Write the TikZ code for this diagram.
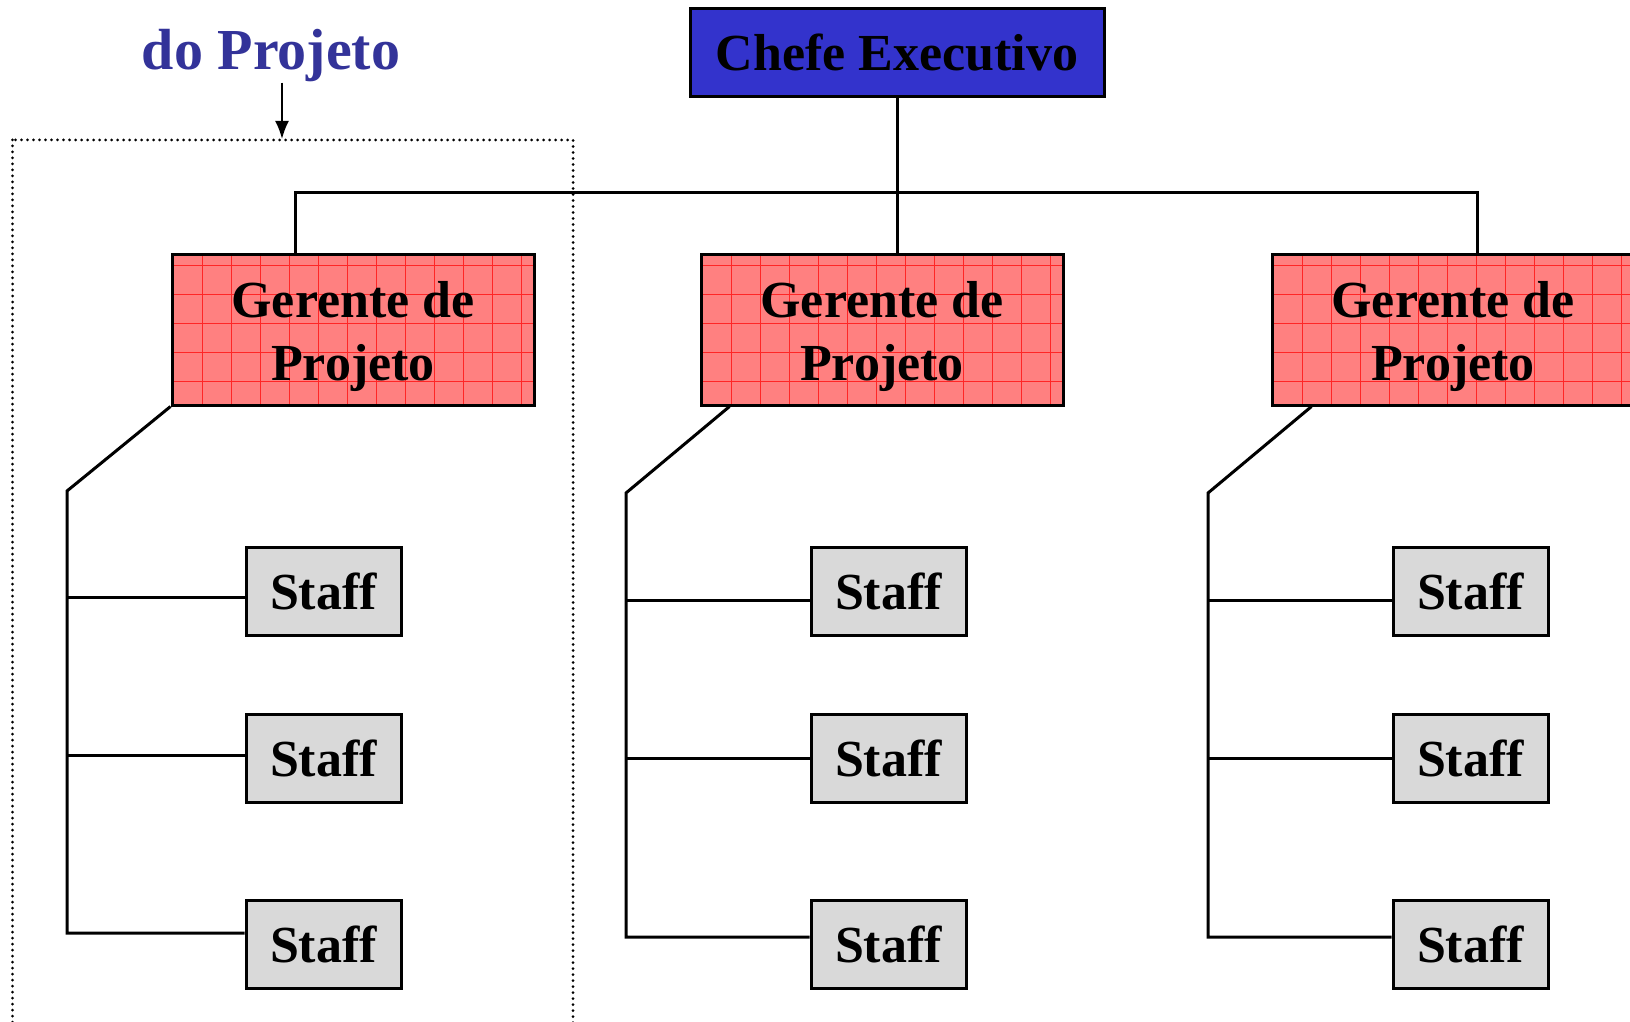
\documentclass[tikz,border=0pt]{standalone}
\usepackage{fontspec}
\setmainfont{Liberation Serif}
\usetikzlibrary{positioning,arrows.meta,calc}
\definecolor{chefeblue}{RGB}{51,51,204}
\definecolor{tituloblue}{RGB}{51,51,153}
\definecolor{gerentered}{RGB}{255,128,128}
\definecolor{staffgray}{RGB}{217,217,217}

\begin{document}
\begin{tikzpicture}[x=0.5pt,y=-0.5pt,
	caixa/.style={
	  draw=black,
	  line width=1.5pt,
	  inner sep=0pt,
	  align=center,
	  font=\fontsize{26}{31.5}\selectfont\bfseries
	},
	chefeb/.style={
	  caixa,
	  fill=chefeblue,
	  minimum width=207pt,
	  minimum height=44pt
	},
	gerenteb/.style={
	  caixa,
	  fill=gerentered,
	  minimum width=181pt,
	  minimum height=75pt,
	  path picture={\draw[red!85,line width=0.3pt,step=14.5pt]
	    (path picture bounding box.south west) grid (path picture bounding box.north east);}
	},
	staffb/.style={
	  caixa,
	  fill=staffgray,
	  minimum width=77.5pt,
	  minimum height=44pt
	},
	linha/.style={line width=1.5pt},
	titulob/.style={
	  text=tituloblue,
	  font=\fontsize{29}{35}\selectfont\bfseries,
	  anchor=base,
	  inner sep=0pt
	}]

	\useasboundingbox (0,0) rectangle (1630,1022);

	\node[titulob] (TituloA) at (271,-14) {Organização};
	\node[titulob] (TituloB) at (271,70) {do Projeto};

	\node[chefeb] (Chefe) at (897,53) {Chefe Executivo};

	\node[gerenteb] (GerenteA) at (353,330) {\rule{0pt}{25pt}Gerente de\\Projeto};
	\node[gerenteb] (GerenteB) at (882,330) {\rule{0pt}{25pt}Gerente de\\Projeto};
	\node[gerenteb] (GerenteC) at (1453,330) {\rule{0pt}{25pt}Gerente de\\Projeto};

	\node[staffb] (StaffA1) at (323.5,591) {Staff};
	\node[staffb] (StaffA2) at (323.5,758) {Staff};
	\node[staffb] (StaffA3) at (323.5,944) {Staff};
	\node[staffb] (StaffB1) at (888.5,591) {Staff};
	\node[staffb] (StaffB2) at (888.5,758) {Staff};
	\node[staffb] (StaffB3) at (888.5,944) {Staff};
	\node[staffb] (StaffC1) at (1470.5,591) {Staff};
	\node[staffb] (StaffC2) at (1470.5,758) {Staff};
	\node[staffb] (StaffC3) at (1470.5,944) {Staff};

	\coordinate (BarraA) at (295,193);
	\coordinate (BarraB) at (897,193);
	\coordinate (BarraC) at (1477,193);
	\draw[linha] (Chefe.south) -- (BarraB) -- (BarraB |- GerenteB.north);
	\draw[linha] (GerenteA.north -| BarraA) |- (BarraC) -- (BarraC |- GerenteC.north);

	\coordinate (EspinhaA) at (67,491);
	\coordinate (RamoA1) at (67,597);
	\coordinate (RamoA2) at (67,755);
	\coordinate (RamoA3) at (67,933);
	\draw[linha] (GerenteA.south west) -- (EspinhaA) -- (RamoA3) -- (RamoA3 -| StaffA3.west);
	\draw[linha] (RamoA1) -- (RamoA1 -| StaffA1.west);
	\draw[linha] (RamoA2) -- (RamoA2 -| StaffA2.west);

	\coordinate (EspinhaB) at (626,493);
	\coordinate (RamoB1) at (626,600);
	\coordinate (RamoB2) at (626,758);
	\coordinate (RamoB3) at (626,937);
	\draw[linha] ([xshift=15pt]GerenteB.south west) -- (EspinhaB) -- (RamoB3) -- (RamoB3 -| StaffB3.west);
	\draw[linha] (RamoB1) -- (RamoB1 -| StaffB1.west);
	\draw[linha] (RamoB2) -- (RamoB2 -| StaffB2.west);

	\coordinate (EspinhaC) at (1208,493);
	\coordinate (RamoC1) at (1208,600);
	\coordinate (RamoC2) at (1208,758);
	\coordinate (RamoC3) at (1208,937);
	\draw[linha] ([xshift=20.5pt]GerenteC.south west) -- (EspinhaC) -- (RamoC3) -- (RamoC3 -| StaffC3.west);
	\draw[linha] (RamoC1) -- (RamoC1 -| StaffC1.west);
	\draw[linha] (RamoC2) -- (RamoC2 -| StaffC2.west);

	\draw[line width=1.5pt,line cap=round,dash pattern=on 0pt off 3pt] (12.5,140) rectangle (573,1045);
	\coordinate (Moldura) at (282,139);
	\draw[line width=1pt,-{Latex[length=9pt,width=7pt]}] ([xshift=5.5pt]TituloB.south) -- (Moldura);
\end{tikzpicture}
\end{document}
